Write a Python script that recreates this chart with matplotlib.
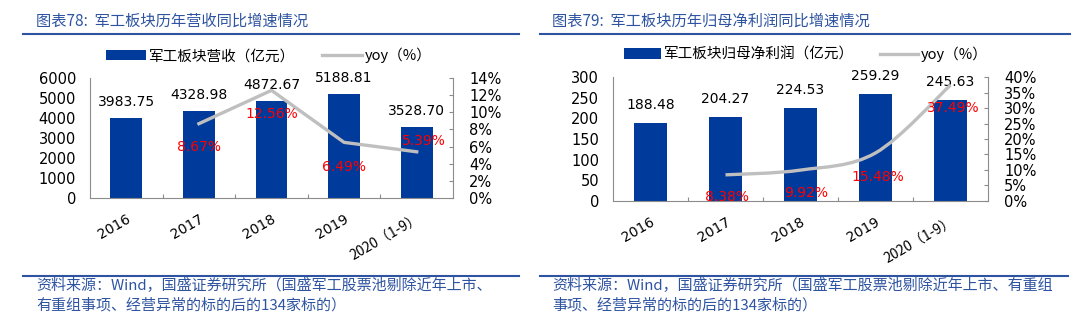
import numpy as np
import matplotlib
matplotlib.use('Agg')
import matplotlib.pyplot as plt
from matplotlib.lines import Line2D
from matplotlib.patches import Patch, PathPatch
from matplotlib.path import Path
from matplotlib.ticker import FuncFormatter, MultipleLocator

plt.rcParams['font.family'] = ['DejaVu Sans', 'Noto Sans CJK SC']
CJK = ['Noto Sans CJK SC', 'DejaVu Sans']

# data
years = ['2016', '2017', '2018', '2019', '2020（1-9）']

revenue = [3983.75, 4328.98, 4872.67, 5188.81, 3528.70]      # 亿元
revenue_yoy = [8.67, 12.56, 6.49, 5.39]                       # % from 2017

profit = [188.48, 204.27, 224.53, 259.29, 245.63]             # 亿元
profit_yoy = [8.38, 9.92, 15.48, 37.49]                       # % from 2017

# style
BAR = '#003A9B'
GREY = '#BFBFBF'
SPINE = '#8C8C8C'
NAVY = '#2E54A1'
RED = '#FF0000'
W, H = 1075, 322

fig = plt.figure(figsize=(W / 100, H / 100), dpi=100)


def fx(px):
    return px / W


def fy(py):
    return 1 - py / H


def smooth_path(xs, ys):
    # catmull-rom style bezier through the points (like excel "smooth line")
    pts = np.column_stack([xs, ys]).astype(float)
    n = len(pts)
    verts = [pts[0]]
    codes = [Path.MOVETO]
    for i in range(n - 1):
        p0 = pts[max(i - 1, 0)]
        p1 = pts[i]
        p2 = pts[i + 1]
        p3 = pts[min(i + 2, n - 1)]
        verts += [p1 + (p2 - p0) / 6, p2 - (p3 - p1) / 6, p2]
        codes += [Path.CURVE4] * 3
    return Path(verts, codes)


def panel(box, values, yoy, vmax, vstep, pmax, pstep, val_off, pct_offs, smooth):
    l, t, r, b = box
    ax = fig.add_axes([fx(l), fy(b), fx(r - l), (b - t) / H])
    x = np.arange(len(values))
    ax.bar(x, values, width=0.44, color=BAR, zorder=2)
    ax.set_xlim(-0.5, len(values) - 0.5)
    ax.set_ylim(0, vmax)
    ax.yaxis.set_major_locator(MultipleLocator(vstep))
    ax.set_xticks(x)
    ax.set_xticklabels(years, rotation=30, ha='right', va='top',
                       rotation_mode='anchor', fontsize=10)
    ax.get_xticklabels()[-1].set_family(CJK)
    ax.set_xticks(x[:-1] + 0.5, minor=True)
    ax.tick_params(axis='x', which='major', length=0, pad=10)
    ax.tick_params(axis='x', which='minor', direction='in', length=3,
                   color=SPINE, width=0.8)
    ax.tick_params(axis='y', length=0, pad=10, labelsize=10.5)
    for s in ['top', 'right']:
        ax.spines[s].set_visible(False)
    for s in ['left', 'bottom']:
        ax.spines[s].set_color(SPINE)
        ax.spines[s].set_linewidth(0.8)
    for i, v in enumerate(values):
        ax.annotate(f'{v:.2f}', (i, v), xytext=(0, val_off),
                    textcoords='offset points', ha='center', va='center',
                    fontsize=10)

    ax2 = ax.twinx()
    ax2.set_ylim(0, pmax)
    ax2.yaxis.set_major_locator(MultipleLocator(pstep))
    ax2.yaxis.set_major_formatter(FuncFormatter(lambda v, p: f'{v:.0f}%'))
    ax2.tick_params(axis='y', direction='in', length=3, color=SPINE,
                    width=0.8, pad=11.5, labelsize=10.5)
    for s in ['top', 'left', 'bottom']:
        ax2.spines[s].set_visible(False)
    ax2.spines['right'].set_color(SPINE)
    ax2.spines['right'].set_linewidth(0.8)

    xy = np.arange(1, len(values))
    if smooth:
        ax2.add_patch(PathPatch(smooth_path(xy, yoy), facecolor='none',
                                edgecolor=GREY, lw=2.4))
    else:
        ax2.plot(xy, yoy, color=GREY, lw=2.4)
    for xi, p, off in zip(xy, yoy, pct_offs):
        ax2.annotate(f'{p:.2f}%', (xi, p), xytext=off,
                     textcoords='offset points', ha='center', va='center',
                     fontsize=10, color=RED)
    return ax, ax2


# left: revenue
panel((90, 78, 453, 198), revenue, revenue_yoy, 6000, 1000, 14, 2, 11.5,
      [(0, -17), (0, -17), (0, -17.5), (5, 8)], smooth=False)
# right: net profit
panel((613, 77.3, 988, 200.7), profit, profit_yoy, 300, 50, 40, 5, 13,
      [(1, -16), (4, -16.5), (2, -17), (2, -16.5)], smooth=True)

# titles, rules, legends, sources
fig.text(fx(36), fy(21), '图表78:  军工板块历年营收同比增速情况', color=NAVY,
         fontsize=11, va='center', ha='left', family=CJK)
fig.text(fx(552), fy(21), '图表79:  军工板块历年归母净利润同比增速情况', color=NAVY,
         fontsize=11, va='center', ha='left', family=CJK)

for x0, x1 in [(23, 519), (540, 1070)]:
    fig.add_artist(Line2D([fx(x0), fx(x1)], [fy(34.3)] * 2,
                          transform=fig.transFigure, color=NAVY, lw=1.5))
for x0, x1 in [(23, 519), (540, 1068)]:
    fig.add_artist(Line2D([fx(x0), fx(x1)], [fy(275.5)] * 2,
                          transform=fig.transFigure, color=NAVY, lw=1.5))

leg_kw = dict(loc='center left', ncol=2, frameon=False, borderpad=0,
              borderaxespad=0, handleheight=0.75, handletextpad=0.2,
              columnspacing=1.8, prop={'family': CJK, 'size': 10.5})
fig.legend([Patch(facecolor=BAR), Line2D([], [], color=GREY, lw=2.4)],
           ['军工板块营收（亿元）', 'yoy（%）'],
           bbox_to_anchor=(fx(106), fy(55.5)), handlelength=2.75, **leg_kw)
fig.legend([Patch(facecolor=BAR), Line2D([], [], color=GREY, lw=2.4)],
           ['军工板块归母净利润（亿元）', 'yoy（%）'],
           bbox_to_anchor=(fx(624), fy(54)), handlelength=2.55, **leg_kw)

src_l = ['资料来源：Wind，国盛证券研究所（国盛军工股票池剔除近年上市、',
         '有重组事项、经营异常的标的后的134家标的）']
src_r = ['资料来源：Wind，国盛证券研究所（国盛军工股票池剔除近年上市、有重组',
         '事项、经营异常的标的后的134家标的）']
for x0, lines in [(36, src_l), (552, src_r)]:
    for k, s in enumerate(lines):
        fig.text(fx(x0), fy(286 + 19 * k), s, color=NAVY, fontsize=10.8,
                 va='center', ha='left', family=CJK)

fig.savefig('out.png', dpi=100)
